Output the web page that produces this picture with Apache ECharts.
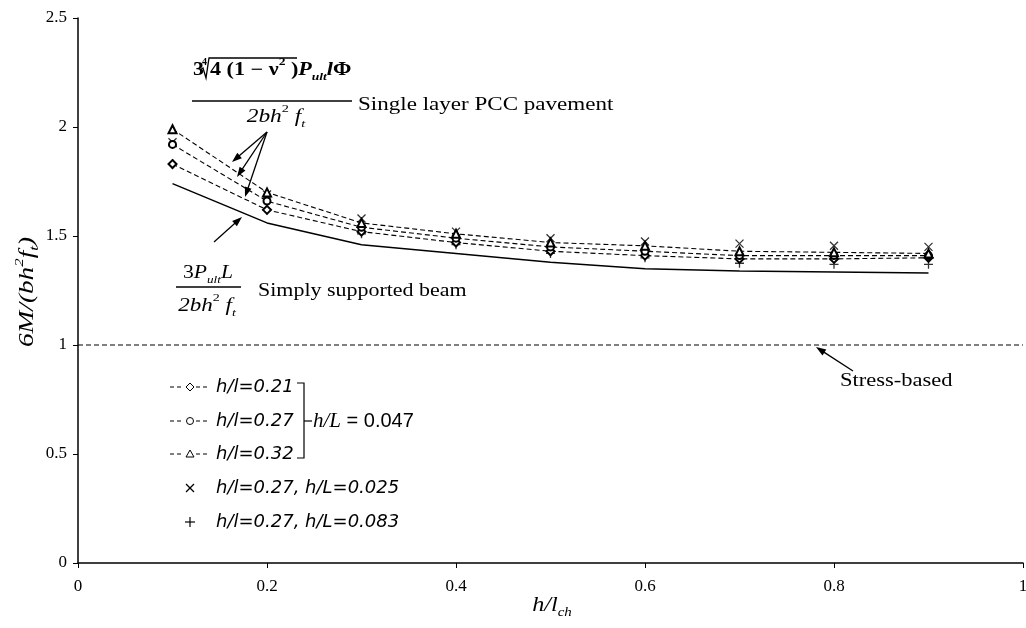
<!DOCTYPE html>
<html><head><meta charset="utf-8">
<script src="https://cdn.jsdelivr.net/npm/echarts@6/dist/echarts.min.js"></script>
<style>html,body{margin:0;padding:0;background:#fff}#c{width:1026px;height:628px}</style>
</head><body><div id="c"></div>
<script>
// ---- data ----
const xValues = [0.1, 0.2, 0.3, 0.4, 0.5, 0.6, 0.7, 0.8, 0.9];
const hl021 = [1.83, 1.62, 1.52, 1.47, 1.43, 1.41, 1.395, 1.395, 1.40];
const hl027 = [1.92, 1.66, 1.54, 1.49, 1.45, 1.43, 1.41, 1.41, 1.41];
const hl032 = [1.99, 1.70, 1.56, 1.51, 1.47, 1.455, 1.43, 1.425, 1.42];
const hl027HL025 = [1.93, 1.69, 1.58, 1.52, 1.49, 1.475, 1.465, 1.455, 1.45];
const hl027HL083 = [1.83, 1.62, 1.51, 1.46, 1.42, 1.40, 1.375, 1.37, 1.37];
const simplyBeam = [1.74, 1.56, 1.46, 1.42, 1.38, 1.35, 1.34, 1.335, 1.33];
const stressX = [0, 1];
const stressY = [1, 1];
const xTickLabels = ['0', '0.2', '0.4', '0.6', '0.8', '1'];
const yTickLabels = ['0', '0.5', '1', '1.5', '2', '2.5'];

const SERIF = 'Liberation Serif';
const pair = (xs, ys) => xs.map((x, i) => [x, ys[i]]);
const crossPath = 'path://M0,0L10,10M10,0L0,10';
const plusPath = 'path://M5,0L5,10M0,5L10,5';

function richSet(size, bold) {
  const w = bold ? 'bold' : 'normal';
  return {
    n: {fontFamily: SERIF, fontSize: size, fontWeight: w, fill: '#000', lineHeight: size + 8, verticalAlign: 'middle'},
    i: {fontFamily: SERIF, fontSize: size, fontStyle: 'italic', fontWeight: w, fill: '#000', lineHeight: size + 8, verticalAlign: 'middle'},
    sup: {fontFamily: SERIF, fontSize: Math.round(size * 0.62), fontWeight: w, fill: '#000', lineHeight: size * 0.62 + 6, verticalAlign: 'top'},
    sub: {fontFamily: SERIF, fontSize: Math.round(size * 0.6), fontStyle: 'italic', fontWeight: w, fill: '#000', lineHeight: size * 0.6 + 4, verticalAlign: 'bottom'}
  };
}

function arrow(x1, y1, x2, y2) {
  const dx = x2 - x1, dy = y2 - y1, L = Math.hypot(dx, dy), ux = dx / L, uy = dy / L;
  const hl = 10, hw = 3.5;
  const bx = x2 - ux * hl, by = y2 - uy * hl;
  return [
    {type: 'line', z: 50, shape: {x1: x1, y1: y1, x2: bx + ux * 2, y2: by + uy * 2}, style: {stroke: '#000', lineWidth: 1.3}},
    {type: 'polygon', z: 50, shape: {points: [[x2, y2], [bx - uy * hw, by + ux * hw], [bx + uy * hw, by - ux * hw]]}, style: {fill: '#000'}}
  ];
}

function text(x, y, str, opts, sx, rot) {
  return {type: 'text', z: 50, x: x, y: y, scaleX: sx || 1, rotation: rot || 0,
    style: Object.assign({x: 0, y: 0, text: str, fill: '#000', fontFamily: SERIF, fontSize: 18, align: 'left', verticalAlign: 'middle'}, opts || {})};
}
function seg(x1, y1, x2, y2, w, dash) {
  return {type: 'line', z: 50, shape: {x1, y1, x2, y2}, style: {stroke: '#000', lineWidth: w || 1, lineDash: dash || null}};
}

const legendFont = {fontFamily: 'DejaVu Sans', fontStyle: 'italic', fontSize: 18};
const legendRows = [387, 421, 454, 488, 522];
const graphics = [];
for (let k = 0; k < 3; k++) {
  graphics.push(seg(170, legendRows[k], 183, legendRows[k], 1, [4, 3]));
  graphics.push(seg(196, legendRows[k], 209, legendRows[k], 1, [4, 3]));
}
const lx = 190;
graphics.push({type: 'polygon', z: 51, shape: {points: [[lx, legendRows[0] - 4], [lx + 4, legendRows[0]], [lx, legendRows[0] + 4], [lx - 4, legendRows[0]]]}, style: {fill: '#fff', stroke: '#000', lineWidth: 1}});
graphics.push({type: 'circle', z: 51, shape: {cx: lx, cy: legendRows[1], r: 3.5}, style: {fill: '#fff', stroke: '#000', lineWidth: 1}});
graphics.push({type: 'polygon', z: 51, shape: {points: [[lx, legendRows[2] - 4], [lx + 4, legendRows[2] + 3], [lx - 4, legendRows[2] + 3]]}, style: {fill: '#fff', stroke: '#000', lineWidth: 1}});
graphics.push(seg(lx - 4, legendRows[3] - 4, lx + 4, legendRows[3] + 4, 1.2));
graphics.push(seg(lx + 4, legendRows[3] - 4, lx - 4, legendRows[3] + 4, 1.2));
graphics.push(seg(lx, legendRows[4] - 5, lx, legendRows[4] + 5, 1.2));
graphics.push(seg(lx - 5, legendRows[4], lx + 5, legendRows[4], 1.2));
const legendLabels = ['h/l=0.21', 'h/l=0.27', 'h/l=0.32', 'h/l=0.27, h/L=0.025', 'h/l=0.27, h/L=0.083'];
legendLabels.forEach((t, k) => graphics.push(text(216, legendRows[k], t, legendFont)));
graphics.push({type: 'polyline', z: 50, shape: {points: [[297, 383], [304, 383], [304, 458], [297, 458]]}, style: {stroke: '#000', lineWidth: 1.2, fill: null}});
graphics.push(seg(304, 421, 312, 421, 1.2));
graphics.push(text(313, 421, '{i|h/L}{n| = 0.047}', {rich: {
  i: {fontFamily: SERIF, fontStyle: 'italic', fontSize: 21, fill: '#000'},
  n: {fontFamily: 'Liberation Sans', fontSize: 20, fill: '#000'}}}));

// formula 1 (single layer PCC pavement)
graphics.push(text(193, 70, '3', {fontWeight: 'bold', fontSize: 19}, 1.15));
graphics.push(text(202, 62, '4', {fontWeight: 'bold', fontSize: 10}));
graphics.push({type: 'polyline', z: 50, shape: {points: [[200, 70], [203, 68], [206, 78], [209, 58], [297, 58]]}, style: {stroke: '#000', lineWidth: 1.3, fill: null}});
graphics.push(text(210, 70, '{n|4 (1 − ν}{sup|2}{n| )}{i|P}{sub|ult}{i|l}{n|Φ}', {rich: richSet(18, true)}, 1.23));
graphics.push(seg(192, 101, 352, 101, 1.3));
graphics.push(text(276, 117, '{i|2bh}{sup|2}{n| }{i|f}{sub|t}', {align: 'center', rich: richSet(18, false)}, 1.3));
graphics.push(text(358, 105, 'Single layer PCC pavement', {fontSize: 18}, 1.28));
graphics.push(...arrow(267, 132, 232, 162));
graphics.push(...arrow(267, 132, 237, 177));
graphics.push(...arrow(267, 132, 245, 197));

// formula 2 (simply supported beam)
graphics.push(text(208, 273, '{n|3}{i|P}{sub|ult}{i|L}', {align: 'center', rich: richSet(18, false)}, 1.2));
graphics.push(seg(176, 287, 241, 287, 1.3));
graphics.push(text(207, 306, '{i|2bh}{sup|2}{n| }{i|f}{sub|t}', {align: 'center', rich: richSet(18, false)}, 1.28));
graphics.push(text(258, 291, 'Simply supported beam', {fontSize: 18}, 1.22));
graphics.push(...arrow(214, 242, 242, 217));

// stress-based
graphics.push(text(840, 381, 'Stress-based', {fontSize: 18}, 1.25));
graphics.push(...arrow(853, 371, 816, 347));

// axis titles
const titleRich = {
  i: {fontFamily: SERIF, fontStyle: 'italic', fontSize: 21, fill: '#000', lineHeight: 28, verticalAlign: 'middle'},
  sup: {fontFamily: SERIF, fontStyle: 'italic', fontSize: 13, fill: '#000', lineHeight: 16, verticalAlign: 'top'},
  sub: {fontFamily: SERIF, fontStyle: 'italic', fontSize: 13, fill: '#000', lineHeight: 14, verticalAlign: 'bottom'}
};
graphics.push(text(27, 292, '{i|6M/(bh}{sup|2}{i|f}{sub|t}{i|)}', {align: 'center', rich: titleRich}, 1.3, Math.PI / 2));
graphics.push(text(552, 605, '{i|h/l}{sub|ch}', {align: 'center', rich: titleRich}, 1.15));

const chart = echarts.init(document.getElementById('c'), null, {renderer: 'canvas'});
const dashed = {color: '#000', width: 1.1, type: [5, 3]};
const emptySym = {color: '#000', borderColor: '#000', borderWidth: 1};
chart.setOption({
  animation: false,
  backgroundColor: '#fff',
  grid: {left: 78, right: 3, top: 18, bottom: 65, containLabel: false, outerBoundsMode: 'none'},
  xAxis: {
    type: 'value', min: 0, max: 1, interval: 0.2,
    axisLine: {lineStyle: {color: '#000', width: 1.5}},
    axisTick: {length: 5, lineStyle: {color: '#000', width: 1}},
    axisLabel: {color: '#000', fontFamily: SERIF, fontSize: 17, margin: 15,
      formatter: v => xTickLabels[Math.round(v / 0.2)]},
    splitLine: {show: false}
  },
  yAxis: {
    type: 'value', min: 0, max: 2.5, interval: 0.5,
    axisLine: {show: true, lineStyle: {color: '#000', width: 1.5}},
    axisTick: {show: true, length: 5, lineStyle: {color: '#000', width: 1}},
    axisLabel: {color: '#000', fontFamily: SERIF, fontSize: 17, margin: 11,
      formatter: v => yTickLabels[Math.round(v / 0.5)]},
    splitLine: {show: false}
  },
  series: [
    {name: 'Stress-based', type: 'line', data: pair(stressX, stressY), showSymbol: false, lineStyle: dashed, z: 1},
    {name: 'Simply supported beam', type: 'line', data: pair(xValues, simplyBeam), showSymbol: false, lineStyle: {color: '#000', width: 1.5}},
    {name: 'h/l=0.21', type: 'line', data: pair(xValues, hl021), symbol: 'emptyDiamond', symbolSize: 8, lineStyle: dashed, itemStyle: emptySym},
    {name: 'h/l=0.27', type: 'line', data: pair(xValues, hl027), symbol: 'emptyCircle', symbolSize: 7, lineStyle: dashed, itemStyle: emptySym},
    {name: 'h/l=0.32', type: 'line', data: pair(xValues, hl032), symbol: 'emptyTriangle', symbolSize: 8, lineStyle: dashed, itemStyle: emptySym},
    {name: 'h/l=0.27, h/L=0.025', type: 'scatter', data: pair(xValues, hl027HL025), symbol: crossPath, symbolSize: 8,
      itemStyle: {color: 'rgba(0,0,0,0)', borderColor: '#000', borderWidth: 1.3}},
    {name: 'h/l=0.27, h/L=0.083', type: 'scatter', data: pair(xValues, hl027HL083), symbol: plusPath, symbolSize: 9,
      itemStyle: {color: 'rgba(0,0,0,0)', borderColor: '#000', borderWidth: 1.3}}
  ],
  graphic: graphics
});
</script>
</body></html>
